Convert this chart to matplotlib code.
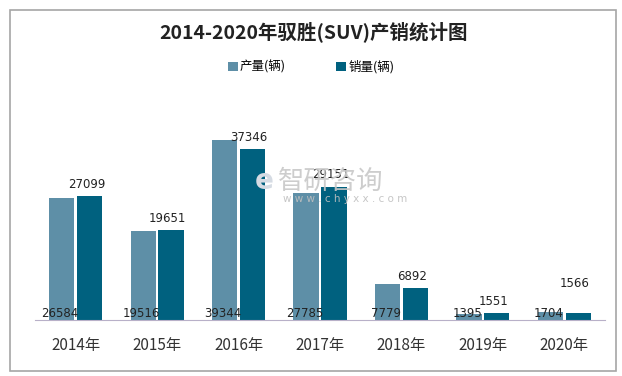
import matplotlib.pyplot as plt
import numpy as np
from matplotlib.patches import Rectangle

plt.rcParams["font.family"] = ["Noto Sans CJK SC", "DejaVu Sans"]

years = ["2014年", "2015年", "2016年", "2017年", "2018年", "2019年", "2020年"]
production = [26584, 19516, 39344, 27785, 7779, 1395, 1704]
sales = [27099, 19651, 37346, 29151, 6892, 1551, 1566]

c_prod = "#5e8fa7"
c_sale = "#00617f"

fig = plt.figure(figsize=(6.22, 3.76), dpi=100)
# outer frame
fig.patches.append(Rectangle((10 / 622, 5 / 376), 606 / 622, 361 / 376,
                             transform=fig.transFigure, fill=False,
                             edgecolor="#a6a6a6", linewidth=1.2))

ax = fig.add_axes([35 / 622, 56 / 376, 570 / 622, 220 / 376])
x = np.arange(len(years))
w = 0.31
gap = 0.016
ax.bar(x - w / 2 - gap, production, width=w, color=c_prod, label="产量(辆)")
ax.bar(x + w / 2 + gap, sales, width=w, color=c_sale, label="销量(辆)")

ax.set_xlim(-0.5, len(years) - 0.5)
ax.set_ylim(0, 48090)
ax.set_xticks(x)
ax.set_xticklabels(years, fontsize=11, color="#333333")
ax.tick_params(axis="x", length=0, pad=12)
ax.set_yticks([])
for s in ["top", "right", "left"]:
    ax.spines[s].set_visible(False)
ax.spines["bottom"].set_color("#b8b0c8")
ax.spines["bottom"].set_linestyle((0, (1, 1)))
ax.spines["bottom"].set_linewidth(0.8)

for i in range(len(years)):
    ax.text(x[i] - w / 2 - gap - 0.02, 1400, str(production[i]), ha="center",
            va="center", fontsize=8.5, color="#222222", family=["DejaVu Sans"])
    off = 2600
    if i == len(years) - 1:
        off = 6400
    ax.text(x[i] + w / 2 + gap - 0.04, sales[i] + off, str(sales[i]), ha="center",
            va="center", fontsize=8.5, color="#222222", family=["DejaVu Sans"])

# watermark
ax.text(2.48, 30300, "智研咨询", fontsize=19, color="#c8c8c8", ha="left",
        va="center", alpha=0.9, zorder=5)
ax.text(2.55, 26400, "w w w . c h y x x . c o m", fontsize=7.5, color="#c0c0c0",
        ha="left", va="center", alpha=0.9, zorder=5, family=["DejaVu Sans"])
ax.text(2.2, 30300, "e", fontsize=20, color="#d5dbe3", ha="left",
        va="center", fontweight="bold", zorder=4, family=["DejaVu Sans"])

fig.text(314 / 622, 1 - 32 / 376, "2014-2020年驭胜(SUV)产销统计图", ha="center",
         va="center", fontsize=14, fontweight="bold", color="#222222")
fig.legend(loc="center", bbox_to_anchor=(311 / 622, 1 - 67 / 376), ncol=2,
           frameon=False, fontsize=9, handlelength=0.8, handleheight=0.8,
           columnspacing=4, handletextpad=0.2)

fig.savefig("out.png", dpi=100)
